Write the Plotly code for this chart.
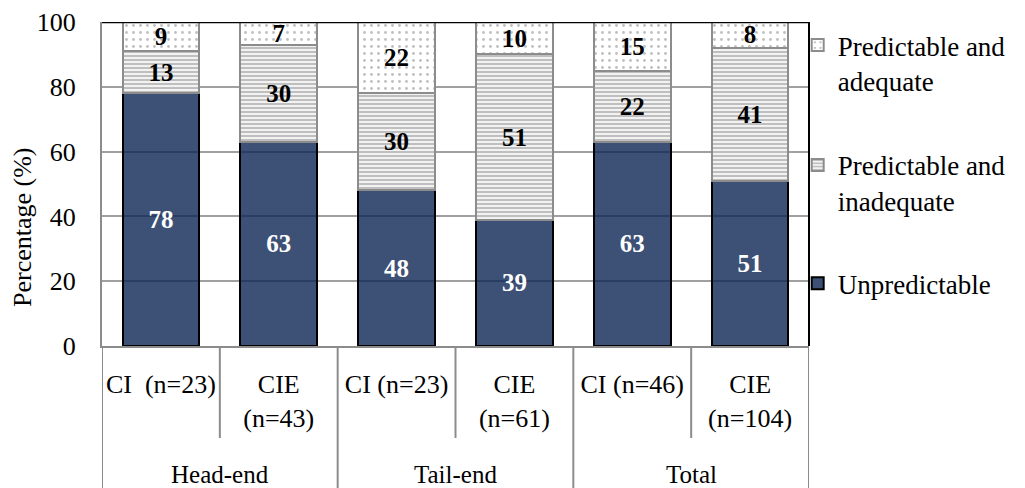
import plotly.graph_objects as go

# ---- data ----
keys = ["he_ci", "he_cie", "te_ci", "te_cie", "to_ci", "to_cie"]
sub_labels = ["CI\u00a0\u00a0(n=23)", "CIE<br>(n=43)", "CI (n=23)", "CIE<br>(n=61)", "CI (n=46)", "CIE<br>(n=104)"]
groups = ["Head-end", "Tail-end", "Total"]
unpredictable = [78, 63, 48, 39, 63, 51]
pred_inadequate = [13, 30, 30, 51, 22, 41]
pred_adequate = [9, 7, 22, 10, 15, 8]

FONT = "Liberation Serif"
GREY = "#8c8c8c"

# page has an 8px body margin: figure coordinates are picture coordinates minus 8
W, H = 1017, 480
L, T, R_EDGE, B_EDGE = 94, 14, 801, 338
PH = B_EDGE - T

fig = go.Figure()
fig.add_trace(go.Bar(
    x=keys, y=unpredictable, name="Unpredictable", legend="legend3",
    marker=dict(color="rgba(13,36,83,0.8)", line=dict(color="black", width=2)),
    text=[str(v) for v in unpredictable], textposition="inside", insidetextanchor="middle",
    textangle=0, textfont=dict(family=FONT, size=25, color="white", weight="bold"),
))
fig.add_trace(go.Bar(
    x=keys, y=pred_inadequate, name="Predictable and<br>inadequate", legend="legend2",
    marker=dict(color="white", line=dict(color=GREY, width=2),
                pattern=dict(shape="-", fgcolor="#808080", bgcolor="white", size=4, solidity=0.6)),
    text=[str(v) for v in pred_inadequate], textposition="inside", insidetextanchor="middle",
    textangle=0, textfont=dict(family=FONT, size=25, color="black", weight="bold"),
))
fig.add_trace(go.Bar(
    x=keys, y=pred_adequate, name="Predictable and<br>adequate", legend="legend",
    marker=dict(color="white", line=dict(color=GREY, width=2),
                pattern=dict(shape=".", fgcolor="#808080", bgcolor="white", size=7, solidity=0.13)),
    text=[str(v) for v in pred_adequate], textposition="inside", insidetextanchor="middle",
    textangle=0, textfont=dict(family=FONT, size=25, color="black", weight="bold"),
))

shapes = []
shapes.append(dict(type="line", xref="paper", yref="y", x0=0, x1=1, y0=100, y1=100,
                   line=dict(color="black", width=2.5), layer="above"))
shapes.append(dict(type="line", xref="paper", yref="paper", x0=1, x1=1, y0=0, y1=1,
                   line=dict(color="black", width=2), layer="above"))
n = len(keys)
for i in range(n + 1):
    xb = i - 0.5
    y0 = -0.45 if i % 2 == 0 else -0.284
    shapes.append(dict(type="line", xref="x", yref="paper", x0=xb, x1=xb, y0=y0, y1=0,
                       line=dict(color=GREY, width=2)))

annotations = []
for gi, g in enumerate(groups):
    annotations.append(dict(x=gi * 2 + 0.5, xref="x", y=(B_EDGE - 466) / PH, yref="paper", text=g,
                            showarrow=False, font=dict(family=FONT, size=25, color="black"),
                            xanchor="center", yanchor="middle"))
annotations.append(dict(x=(15 - L) / (R_EDGE - L), xref="paper", y=(B_EDGE - 219) / PH, yref="paper",
                        text="Percentage (%)", showarrow=False, textangle=-90,
                        xanchor="center", yanchor="middle",
                        font=dict(family=FONT, size=26, color="black")))

legend_common = dict(font=dict(family=FONT, size=27, color="black"), bgcolor="rgba(0,0,0,0)",
                     xanchor="left", yanchor="top", valign="top", x=0.984)

fig.update_layout(
    width=W, height=H,
    margin=dict(l=L, r=W - R_EDGE, t=T, b=H - B_EDGE, autoexpand=False),
    paper_bgcolor="white", plot_bgcolor="white",
    barmode="stack", bargap=0.35,
    showlegend=True,
    legend=dict(**legend_common, y=1.003),
    legend2=dict(**legend_common, y=0.633),
    legend3=dict(**legend_common, y=0.268),
    uniformtext=dict(minsize=25, mode="show"),
    xaxis=dict(type="category", categoryorder="array", categoryarray=keys,
               tickmode="array", tickvals=keys, ticktext=sub_labels,
               showline=True, linecolor=GREY, linewidth=2, ticks="",
               tickfont=dict(family=FONT, size=26, color="black"), ticklabelstandoff=14,
               showgrid=False, range=[-0.5, 5.5]),
    yaxis=dict(range=[0, 100], dtick=20, showgrid=True, gridcolor="#a0a0a0", gridwidth=2,
               showline=True, linecolor=GREY, linewidth=2, ticks="",
               tickfont=dict(family=FONT, size=26, color="black"), ticklabelstandoff=19,
               zeroline=False),
    shapes=shapes, annotations=annotations,
)

fig.write_html("out.html")
